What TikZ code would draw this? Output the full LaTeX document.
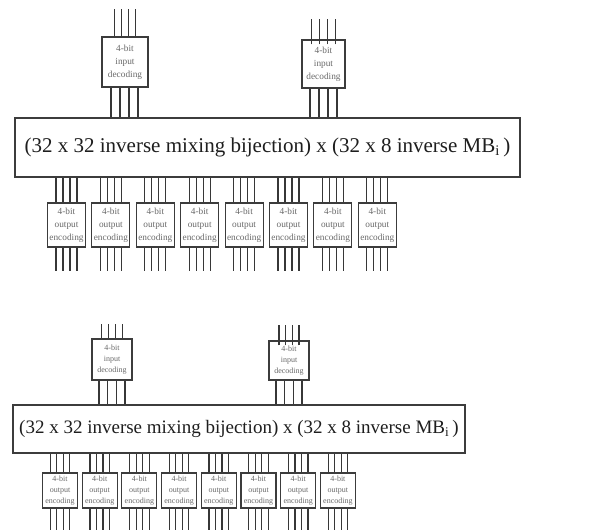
\documentclass[tikz,border=0pt]{standalone}
\usepackage{fontspec}
\setmainfont{Liberation Serif}
\usepackage{xcolor}
\usetikzlibrary{calc}
\definecolor{inkdark}{RGB}{30,30,30}
\definecolor{wiregray}{RGB}{55,55,55}
\definecolor{boxline}{RGB}{60,60,60}
\definecolor{smalltext}{RGB}{105,105,105}

\begin{document}
\begin{tikzpicture}[
    x=1pt, y=-1pt,
    mixbox/.style={draw=boxline, line width=1.4pt, fill=white, inner sep=0pt, text=inkdark},
    codebox/.style={draw=boxline, line width=1.1pt, fill=white, inner sep=0pt, align=center, text=smalltext},
    bigcode/.style={codebox, font=\fontsize{9.3}{13}\selectfont},
    smallcode/.style={codebox, font=\fontsize{8}{10.8}\selectfont},
    wire/.style={draw=wiregray, line width=1.2pt}
]

% Background page
\useasboundingbox (0,0) rectangle (601,529);
\fill[white] (0,0) rectangle (601,529);

% 1. UPPER BLOCK
\node[mixbox, minimum width=505pt, minimum height=59pt] (mixA) at (267.5,147.5)
  {\fontsize{21}{22}\selectfont (32 x 32 inverse mixing bijection) x (32 x 8 inverse MB\textsubscript{i}\,)};

\node[bigcode, minimum width=46pt, minimum height=50pt] (inA1) at (125,62) {4-bit\\input\\decoding};
\node[bigcode, minimum width=43pt, minimum height=48pt] (inA2) at (323.5,64) {4-bit\\input\\decoding};

\foreach \dx in {-10.5,-3.5,3.5,10.5}
  \draw[wire] ([xshift=\dx pt]inA1.north) -- ++(0,-27);
\foreach \dx in {-12,-4,4,12}
  \draw[wire] ([xshift=\dx pt, yshift=-5pt]inA2.north) -- ++(0,-25);
\foreach \dx in {-14,-5,4,13}
  \draw[wire] ([xshift=\dx pt]inA1.south) -- ([xshift=\dx pt]inA1.south |- mixA.north);
\foreach \dx in {-13.5,-4.5,4.5,13.5}
  \draw[wire] ([xshift=\dx pt]inA2.south) -- ([xshift=\dx pt]inA2.south |- mixA.north);

\foreach \i in {1,...,8} {
  \node[bigcode, minimum width=38pt, minimum height=44pt] (outA\i) at ({66.5+44.4*(\i-1)},225)
    {4-bit\\output\\encoding};
  \foreach \dx in {-10.5,-3.5,3.5,10.5} {
    \draw[wire] ([xshift=\dx pt]outA\i.north) -- ([xshift=\dx pt]outA\i.north |- mixA.south);
    \draw[wire] ([xshift=\dx pt]outA\i.south) -- ++(0,23);
  }
}

% 2. LOWER BLOCK
\node[mixbox, minimum width=452pt, minimum height=48pt] (mixB) at (239,429)
  {\fontsize{19}{20}\selectfont (32 x 32 inverse mixing bijection) x (32 x 8 inverse MB\textsubscript{i}\,)};

\node[smallcode, minimum width=40pt, minimum height=41pt] (inB1) at (112,359.5) {4-bit\\input\\decoding};
\node[smallcode, minimum width=40pt, minimum height=39pt] (inB2) at (289,360.5) {4-bit\\input\\decoding};

\foreach \dx in {-10.5,-3.5,3.5,10.5}
  \draw[wire] ([xshift=\dx pt]inB1.north) -- ++(0,-14);
\foreach \dx in {-10,-3.3,3.3,10}
  \draw[wire] ([xshift=\dx pt, yshift=-5pt]inB2.north) -- ++(0,-20);
\foreach \dx in {-13,-4.3,4.3,13}
  \draw[wire] ([xshift=\dx pt]inB1.south) -- ([xshift=\dx pt]inB1.south |- mixB.north);
\foreach \dx in {-13,-4.3,4.3,13}
  \draw[wire] ([xshift=\dx pt]inB2.south) -- ([xshift=\dx pt]inB2.south |- mixB.north);

\foreach \i in {1,...,8} {
  \node[smallcode, minimum width=35pt, minimum height=35pt] (outB\i) at ({60+39.7*(\i-1)},490.5)
    {4-bit\\output\\encoding};
  \foreach \dx in {-9.75,-3.25,3.25,9.75} {
    \draw[wire] ([xshift=\dx pt]outB\i.north) -- ([xshift=\dx pt]outB\i.north |- mixB.south);
    \draw[wire] ([xshift=\dx pt]outB\i.south) -- ++(0,23);
  }
}

\end{tikzpicture}
\end{document}
